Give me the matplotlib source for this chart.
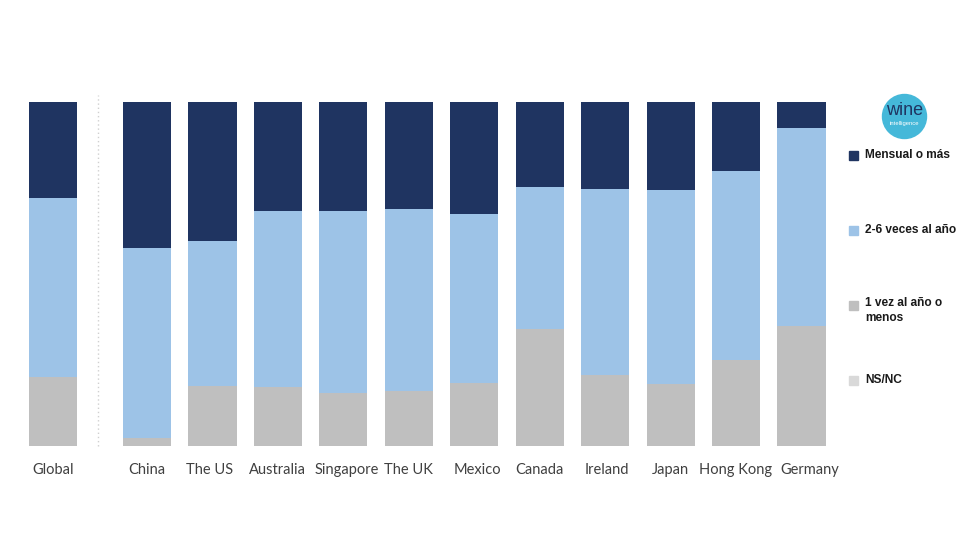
import matplotlib
matplotlib.use("Agg")
import matplotlib.pyplot as plt
from matplotlib.patches import Circle, Rectangle
import matplotlib.transforms as mtransforms
import numpy as np

categories = ["Global", "China", "The US", "Australia", "Singapore", "The UK",
              "Mexico", "Canada", "Ireland", "Japan", "Hong Kong", "Germany"]
ns_nc =      [0.0, 0.0, 0.0, 0.0, 0.0, 0.0, 0.0, 0.0, 0.0, 0.0, 0.0, 0.0]
una_vez =    [20.0, 2.2, 17.5, 17.2, 15.3, 16.0, 18.2, 34.0, 20.6, 18.0, 25.0, 34.9]
dos_seis =   [52.0, 55.4, 42.2, 51.1, 53.1, 52.8, 49.1, 41.4, 54.1, 56.4, 54.9, 57.4]
mensual =    [28.0, 42.4, 40.3, 31.7, 31.6, 31.2, 32.7, 24.6, 25.3, 25.6, 20.1, 7.7]

series_names = ["Mensual o más", "2-6 veces al año", "1 vez al año o\nmenos", "NS/NC"]
colors = {"mensual": "#1F3461", "dos": "#9DC3E7", "una": "#BFBFBF", "ns": "#D9D9D9"}

W, H = 980, 560
fig = plt.figure(figsize=(W / 100, H / 100), dpi=100)

# pixel geometry
left_px, right_px = 20, 840
top_px, bottom_px = 102, 446
ax = fig.add_axes([left_px / W, (H - bottom_px) / H,
                   (right_px - left_px) / W, (bottom_px - top_px) / H])

step = 65.45
x0 = 147.0
xpos = np.array([-1.43] + list(range(11)), dtype=float)
ax.set_xlim((left_px - x0) / step, (right_px - x0) / step)
ax.set_ylim(0, 100)

bw = 0.735
b = np.zeros(len(categories))
for vals, c in [(ns_nc, colors["ns"]), (una_vez, colors["una"]),
                (dos_seis, colors["dos"]), (mensual, colors["mensual"])]:
    v = np.array(vals)
    ax.bar(xpos, v, bottom=b, width=bw, color=c, edgecolor="none", linewidth=0)
    b += v

# dotted separator
ax.plot([(98 - x0) / step] * 2, [0, 102], linestyle=(0, (1, 2)),
        color="#D0D0D0", linewidth=1, clip_on=False)

ax.set_xticks(xpos)
ax.set_xticklabels(categories, fontsize=10.5, color="#404040",
                   family=["Lato", "DejaVu Sans"])
ax.tick_params(axis="x", length=0, pad=12)
# per-label small horizontal nudges (pixels) as in the reference
nudges = {"The US": -3, "Singapore": 3, "Mexico": 3, "Ireland": 2, "Germany": 8}
for lbl in ax.get_xticklabels():
    dx = nudges.get(lbl.get_text(), 0)
    if dx:
        lbl.set_transform(lbl.get_transform() +
                          mtransforms.ScaledTranslation(dx / 100, 0, fig.dpi_scale_trans))
ax.set_yticks([])
for s in ax.spines.values():
    s.set_visible(False)

# legend
leg_items = [(155, "Mensual o más", colors["mensual"]),
             (230, "2-6 veces al año", colors["dos"]),
             (305, "1 vez al año o\nmenos", colors["una"]),
             (380, "NS/NC", colors["ns"])]
for ypx, label, c in leg_items:
    fig.patches.append(Rectangle((849 / W, (H - ypx - 4.5) / H), 9 / W, 9 / H,
                                 transform=fig.transFigure, color=c, zorder=3))
    if "\n" in label:
        fig.text(865 / W, (H - 297) / H, label, fontsize=8.6, fontweight="bold",
                 color="#1A1A1A", va="top", ha="left",
                 family=["Liberation Sans", "DejaVu Sans"], linespacing=1.35)
    else:
        fig.text(865 / W, (H - ypx) / H, label, fontsize=8.6, fontweight="bold",
                 color="#1A1A1A", va="center", ha="left",
                 family=["Liberation Sans", "DejaVu Sans"])

# logo
logo_ax = fig.add_axes([0, 0, 1, 1], facecolor="none")
logo_ax.set_xlim(0, W)
logo_ax.set_ylim(H, 0)
logo_ax.axis("off")
logo_ax.add_patch(Circle((904.5, 116.5), 22, color="#45B8D9"))
logo_ax.text(904.5, 110.5, "wine", ha="center", va="center", fontsize=13,
             color="#1F3461", family=["Liberation Sans", "DejaVu Sans"])
logo_ax.text(904.5, 123, "intelligence", ha="center", va="center", fontsize=4.2,
             color="white", family=["Liberation Sans", "DejaVu Sans"])

fig.savefig("out.png", dpi=100, facecolor="white")
